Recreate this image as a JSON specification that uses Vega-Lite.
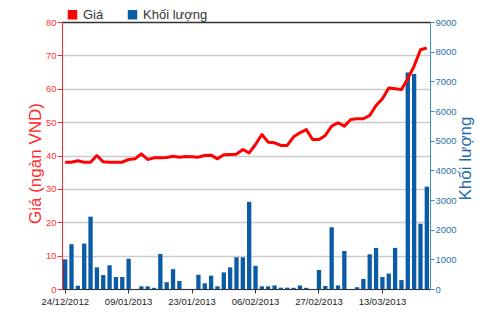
{
  "$schema": "https://vega.github.io/schema/vega-lite/v6.json",
  "width": 368,
  "height": 267,
  "autosize": {"type": "none"},
  "padding": {"left": 62, "top": 22, "right": 70, "bottom": 23},
  "background": "white",
  "config": {"view": {"stroke": null}, "font": "Liberation Sans"},
  "data": {"values": [
    {"i": 0, "d": "24/12/2012", "p": 38.0, "v": 1000},
    {"i": 1, "d": "25/12/2012", "p": 38.0, "v": 1510},
    {"i": 2, "d": "26/12/2012", "p": 38.4, "v": 110},
    {"i": 3, "d": "27/12/2012", "p": 38.0, "v": 1530},
    {"i": 4, "d": "28/12/2012", "p": 38.0, "v": 2440},
    {"i": 5, "d": "02/01/2013", "p": 40.0, "v": 730},
    {"i": 6, "d": "03/01/2013", "p": 38.1, "v": 470},
    {"i": 7, "d": "04/01/2013", "p": 38.0, "v": 800},
    {"i": 8, "d": "07/01/2013", "p": 38.0, "v": 405},
    {"i": 9, "d": "08/01/2013", "p": 38.0, "v": 405},
    {"i": 10, "d": "09/01/2013", "p": 38.8, "v": 1020},
    {"i": 11, "d": "10/01/2013", "p": 39.0, "v": 0},
    {"i": 12, "d": "11/01/2013", "p": 40.5, "v": 90},
    {"i": 13, "d": "14/01/2013", "p": 38.8, "v": 90},
    {"i": 14, "d": "15/01/2013", "p": 39.3, "v": 40},
    {"i": 15, "d": "16/01/2013", "p": 39.3, "v": 1180},
    {"i": 16, "d": "17/01/2013", "p": 39.4, "v": 230},
    {"i": 17, "d": "18/01/2013", "p": 39.8, "v": 670},
    {"i": 18, "d": "21/01/2013", "p": 39.5, "v": 270},
    {"i": 19, "d": "22/01/2013", "p": 39.7, "v": 0},
    {"i": 20, "d": "23/01/2013", "p": 39.6, "v": 0},
    {"i": 21, "d": "24/01/2013", "p": 39.5, "v": 480},
    {"i": 22, "d": "25/01/2013", "p": 40.0, "v": 190},
    {"i": 23, "d": "28/01/2013", "p": 40.1, "v": 450},
    {"i": 24, "d": "29/01/2013", "p": 39.0, "v": 90},
    {"i": 25, "d": "30/01/2013", "p": 40.2, "v": 560},
    {"i": 26, "d": "31/01/2013", "p": 40.3, "v": 730},
    {"i": 27, "d": "01/02/2013", "p": 40.4, "v": 1070},
    {"i": 28, "d": "04/02/2013", "p": 41.8, "v": 1070},
    {"i": 29, "d": "05/02/2013", "p": 40.8, "v": 2940},
    {"i": 30, "d": "06/02/2013", "p": 43.3, "v": 780},
    {"i": 31, "d": "07/02/2013", "p": 46.3, "v": 90},
    {"i": 32, "d": "08/02/2013", "p": 44.0, "v": 90},
    {"i": 33, "d": "18/02/2013", "p": 43.8, "v": 120},
    {"i": 34, "d": "19/02/2013", "p": 43.0, "v": 45},
    {"i": 35, "d": "20/02/2013", "p": 43.0, "v": 45},
    {"i": 36, "d": "21/02/2013", "p": 45.6, "v": 40},
    {"i": 37, "d": "22/02/2013", "p": 46.8, "v": 120},
    {"i": 38, "d": "25/02/2013", "p": 47.8, "v": 40},
    {"i": 39, "d": "26/02/2013", "p": 44.8, "v": 0},
    {"i": 40, "d": "27/02/2013", "p": 44.8, "v": 640},
    {"i": 41, "d": "28/02/2013", "p": 46.0, "v": 100},
    {"i": 42, "d": "01/03/2013", "p": 48.8, "v": 2080},
    {"i": 43, "d": "04/03/2013", "p": 49.8, "v": 120},
    {"i": 44, "d": "05/03/2013", "p": 48.8, "v": 1280},
    {"i": 45, "d": "06/03/2013", "p": 50.8, "v": 0},
    {"i": 46, "d": "07/03/2013", "p": 51.0, "v": 60},
    {"i": 47, "d": "08/03/2013", "p": 51.0, "v": 340},
    {"i": 48, "d": "11/03/2013", "p": 52.0, "v": 1170},
    {"i": 49, "d": "12/03/2013", "p": 55.0, "v": 1385},
    {"i": 50, "d": "13/03/2013", "p": 57.0, "v": 405},
    {"i": 51, "d": "14/03/2013", "p": 60.2, "v": 520},
    {"i": 52, "d": "15/03/2013", "p": 60.0, "v": 1385},
    {"i": 53, "d": "18/03/2013", "p": 59.8, "v": 300},
    {"i": 54, "d": "19/03/2013", "p": 63.0, "v": 7300},
    {"i": 55, "d": "20/03/2013", "p": 66.8, "v": 7250},
    {"i": 56, "d": "21/03/2013", "p": 71.7, "v": 2200},
    {"i": 57, "d": "22/03/2013", "p": 72.2, "v": 3450}
  ]},
  "layer": [
    {
      "mark": {"type": "bar", "color": "#0b5ca6"},
      "encoding": {
        "x": {
          "field": "d", "type": "ordinal", "sort": null,
          "scale": {"paddingInner": 0.32, "paddingOuter": 0.16},
          "axis": {
            "title": null,
            "values": ["24/12/2012", "09/01/2013", "23/01/2013", "06/02/2013", "27/02/2013", "13/03/2013"],
            "labelAngle": 0,
            "labelFont": "Liberation Sans",
            "labelFontSize": 9.5,
            "labelColor": "#222222",
            "labelPadding": 3,
            "tickSize": 4,
            "tickColor": "#333333",
            "domainColor": "#333333",
            "grid": false
          }
        },
        "y": {
          "field": "v", "type": "quantitative",
          "scale": {"domain": [0, 9000]},
          "axis": {
            "orient": "right",
            "title": "Khối lượng",
            "values": [0, 1000, 2000, 3000, 4000, 5000, 6000, 7000, 8000, 9000],
            "format": "d",
            "grid": false,
            "domainColor": "#3d8bc9",
            "tickColor": "#3d8bc9",
            "tickSize": 4,
            "labelPadding": 1,
            "labelColor": "#2b72ad",
            "labelFont": "Liberation Sans",
            "labelFontSize": 9.5,
            "titleColor": "#1f6aa5",
            "titleFont": "Liberation Sans",
            "titleFontSize": 17,
            "titleFontWeight": "normal",
            "titleAngle": 270,
            "titleX": 35,
            "titleY": 136,
            "titleAlign": "center",
            "titleBaseline": "middle"
          }
        },
        "color": {
          "datum": "Khối lượng",
          "scale": {"domain": ["Giá", "Khối lượng"], "range": ["#ff0000", "#0b5ca6"]},
          "legend": {
            "orient": "none",
            "legendX": 4,
            "legendY": -14,
            "direction": "horizontal",
            "title": null,
            "symbolType": "square",
            "symbolSize": 90,
            "symbolStrokeWidth": 0,
            "symbolOpacity": 1,
            "labelFont": "Liberation Sans",
            "labelFontSize": 13,
            "labelColor": "#333333",
            "labelOffset": 4,
            "columnPadding": 22,
            "padding": 0
          }
        }
      }
    },
    {
      "mark": {"type": "line", "color": "#ff0000", "strokeWidth": 3, "strokeJoin": "round"},
      "encoding": {
        "x": {"field": "d", "type": "ordinal", "sort": null},
        "y": {
          "field": "p", "type": "quantitative",
          "scale": {"domain": [0, 80]},
          "axis": {
            "title": "Giá (ngàn VND)",
            "values": [0, 10, 20, 30, 40, 50, 60, 70, 80],
            "grid": true,
            "gridColor": {"condition": {"test": "datum.value == 80", "value": "#333333"}, "value": "#cccccc"},
            "gridWidth": 1.5,
            "domainColor": "#ff2a2a",
            "tickColor": "#ff2a2a",
            "tickSize": 5,
            "labelPadding": 1,
            "labelColor": "#ff3333",
            "labelFont": "Liberation Sans",
            "labelFontSize": 9.5,
            "titleColor": "#ff2a2a",
            "titleFont": "Liberation Sans",
            "titleFontSize": 17,
            "titleFontWeight": "normal",
            "titleAngle": 270,
            "titleX": -27,
            "titleY": 141,
            "titleAlign": "center",
            "titleBaseline": "middle"
          }
        }
      }
    }
  ],
  "resolve": {"scale": {"y": "independent"}}
}
